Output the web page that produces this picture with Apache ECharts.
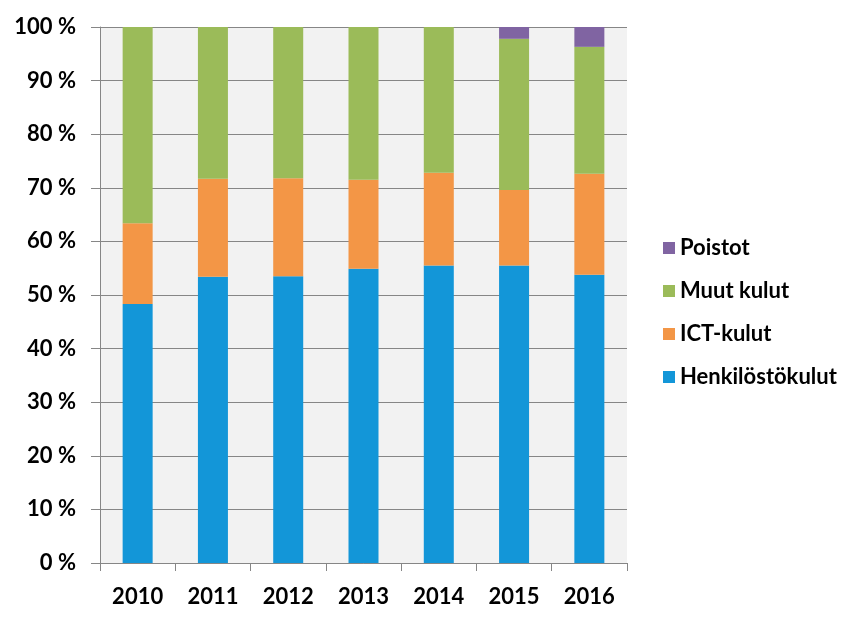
<!DOCTYPE html>
<html><head><meta charset="utf-8">
<script src="https://cdn.jsdelivr.net/npm/echarts@6/dist/echarts.min.js"></script>
<style>html,body{margin:0;padding:0;background:#fff}#c{width:862px;height:623px}</style>
</head><body><div id="c"></div>
<script>
const years = ['2010','2011','2012','2013','2014','2015','2016'];
const henkilosto = [48.3, 53.4, 53.5, 54.9, 55.5, 55.5, 53.8];
const ict = [15.1, 18.3, 18.3, 16.6, 17.3, 14.1, 18.8];
const muut = [36.6, 28.3, 28.2, 28.5, 27.2, 28.2, 23.7];
const poistot = [0, 0, 0, 0, 0, 2.2, 3.7];
const yTicks = [0,10,20,30,40,50,60,70,80,90,100];

const font = 'Lato, "Open Sans", sans-serif';
const chart = echarts.init(document.getElementById('c'));
const mk = (name, data, color) => ({
  name, type: 'bar', stack: 'a', data, barWidth: 30,
  itemStyle: {color}, emphasis: {disabled: true}
});
chart.setOption({
  animation: false,
  backgroundColor: '#fff',
  grid: {left: 100, right: 235, top: 27, bottom: 60, show: true, backgroundColor: '#f2f2f2', borderWidth: 0},
  legend: {
    orient: 'vertical', left: 658, top: 232, itemGap: 21, itemWidth: 12, itemHeight: 12, icon: 'rect',
    data: ['Poistot','Muut kulut','ICT-kulut','Henkilöstökulut'],
    textStyle: {fontFamily: font, fontWeight: 'bold', fontSize: 22, color: '#000'}
  },
  xAxis: {
    type: 'category', data: years,
    axisLine: {lineStyle: {color: '#868686', width: 1}},
    axisTick: {show: true, length: 8, lineStyle: {color: '#868686'}},
    axisLabel: {margin: 23, fontFamily: font, fontWeight: 'bold', fontSize: 22, color: '#000'}
  },
  yAxis: {
    type: 'value', min: yTicks[0], max: yTicks[yTicks.length-1], interval: 10,
    axisLine: {show: true, lineStyle: {color: '#868686'}},
    axisTick: {show: true, length: 9, lineStyle: {color: '#868686'}},
    splitLine: {lineStyle: {color: '#868686', width: 1}},
    axisLabel: {margin: 24, fontFamily: font, fontWeight: 'bold', fontSize: 22, color: '#000',
      formatter: v => v + ' %'}
  },
  series: [
    mk('Henkilöstökulut', henkilosto, '#1396d8'),
    mk('ICT-kulut', ict, '#f39646'),
    mk('Muut kulut', muut, '#9bbb59'),
    mk('Poistot', poistot, '#8064a2')
  ]
});
</script></body></html>
